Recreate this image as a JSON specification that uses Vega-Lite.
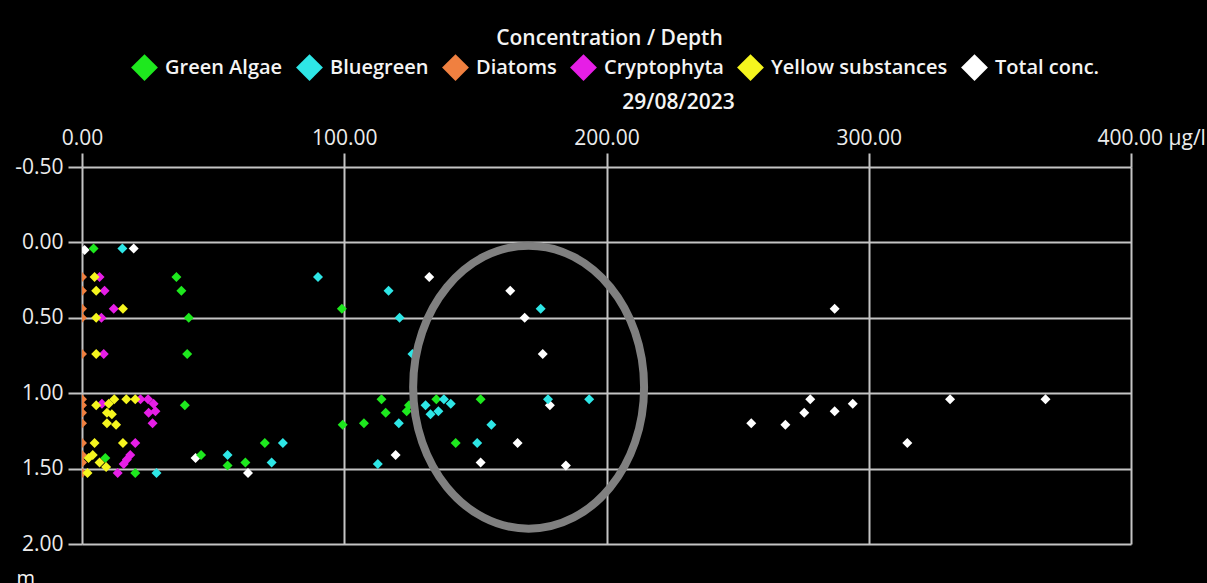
{
  "$schema": "https://vega.github.io/schema/vega-lite/v6.json",
  "width": 1049,
  "height": 377,
  "padding": {"left": 82, "top": 167, "right": 76, "bottom": 39},
  "autosize": {"type": "none"},
  "background": "#000000",
  "title": {
    "text": "Concentration / Depth",
    "anchor": "middle",
    "frame": "group",
    "dx": 3,
    "offset": 5,
    "color": "#f4f4f4",
    "font": "Open Sans",
    "fontSize": 21,
    "fontWeight": 600
  },
  "datasets": {
    "readings": [
      {"series": "Total conc.", "conc": 1.0, "depth": 0.05},
      {"series": "Total conc.", "conc": 19.7, "depth": 0.04},
      {"series": "Total conc.", "conc": 132.4, "depth": 0.23},
      {"series": "Total conc.", "conc": 163.3, "depth": 0.32},
      {"series": "Total conc.", "conc": 168.8, "depth": 0.5},
      {"series": "Total conc.", "conc": 175.7, "depth": 0.74},
      {"series": "Total conc.", "conc": 178.4, "depth": 1.08},
      {"series": "Total conc.", "conc": 166.1, "depth": 1.33},
      {"series": "Total conc.", "conc": 152.0, "depth": 1.46},
      {"series": "Total conc.", "conc": 184.5, "depth": 1.48},
      {"series": "Total conc.", "conc": 119.6, "depth": 1.41},
      {"series": "Total conc.", "conc": 63.3, "depth": 1.53},
      {"series": "Total conc.", "conc": 43.3, "depth": 1.43},
      {"series": "Total conc.", "conc": 287.0, "depth": 0.44},
      {"series": "Total conc.", "conc": 277.7, "depth": 1.04},
      {"series": "Total conc.", "conc": 293.9, "depth": 1.07},
      {"series": "Total conc.", "conc": 275.4, "depth": 1.13},
      {"series": "Total conc.", "conc": 287.0, "depth": 1.12},
      {"series": "Total conc.", "conc": 268.2, "depth": 1.21},
      {"series": "Total conc.", "conc": 255.2, "depth": 1.2},
      {"series": "Total conc.", "conc": 314.7, "depth": 1.33},
      {"series": "Total conc.", "conc": 331.0, "depth": 1.04},
      {"series": "Total conc.", "conc": 367.4, "depth": 1.04},
      {"series": "Diatoms", "conc": 0, "depth": 0.23},
      {"series": "Diatoms", "conc": 0, "depth": 0.32},
      {"series": "Diatoms", "conc": 0, "depth": 0.44},
      {"series": "Diatoms", "conc": 0, "depth": 0.5},
      {"series": "Diatoms", "conc": 0, "depth": 0.74},
      {"series": "Diatoms", "conc": 0, "depth": 1.04},
      {"series": "Diatoms", "conc": 0, "depth": 1.08},
      {"series": "Diatoms", "conc": 0, "depth": 1.13},
      {"series": "Diatoms", "conc": 0, "depth": 1.2},
      {"series": "Diatoms", "conc": 0, "depth": 1.33},
      {"series": "Diatoms", "conc": 0, "depth": 1.41},
      {"series": "Diatoms", "conc": 0, "depth": 1.46},
      {"series": "Diatoms", "conc": 0, "depth": 1.53},
      {"series": "Green Algae", "conc": 4.4, "depth": 0.04},
      {"series": "Green Algae", "conc": 36.0, "depth": 0.23},
      {"series": "Green Algae", "conc": 37.9, "depth": 0.32},
      {"series": "Green Algae", "conc": 40.7, "depth": 0.5},
      {"series": "Green Algae", "conc": 40.1, "depth": 0.74},
      {"series": "Green Algae", "conc": 39.2, "depth": 1.08},
      {"series": "Green Algae", "conc": 8.9, "depth": 1.43},
      {"series": "Green Algae", "conc": 20.3, "depth": 1.53},
      {"series": "Green Algae", "conc": 45.4, "depth": 1.41},
      {"series": "Green Algae", "conc": 55.5, "depth": 1.48},
      {"series": "Green Algae", "conc": 62.3, "depth": 1.46},
      {"series": "Green Algae", "conc": 69.7, "depth": 1.33},
      {"series": "Green Algae", "conc": 99.4, "depth": 1.21},
      {"series": "Green Algae", "conc": 107.5, "depth": 1.2},
      {"series": "Green Algae", "conc": 114.2, "depth": 1.04},
      {"series": "Green Algae", "conc": 115.8, "depth": 1.13},
      {"series": "Green Algae", "conc": 123.8, "depth": 1.12},
      {"series": "Green Algae", "conc": 124.7, "depth": 1.08},
      {"series": "Green Algae", "conc": 135.1, "depth": 1.04},
      {"series": "Green Algae", "conc": 152.0, "depth": 1.04},
      {"series": "Green Algae", "conc": 142.5, "depth": 1.33},
      {"series": "Green Algae", "conc": 99.1, "depth": 0.44},
      {"series": "Bluegreen", "conc": 15.4, "depth": 0.04},
      {"series": "Bluegreen", "conc": 90.0, "depth": 0.23},
      {"series": "Bluegreen", "conc": 116.9, "depth": 0.32},
      {"series": "Bluegreen", "conc": 121.1, "depth": 0.5},
      {"series": "Bluegreen", "conc": 126.0, "depth": 0.74},
      {"series": "Bluegreen", "conc": 174.9, "depth": 0.44},
      {"series": "Bluegreen", "conc": 177.7, "depth": 1.04},
      {"series": "Bluegreen", "conc": 193.4, "depth": 1.04},
      {"series": "Bluegreen", "conc": 156.1, "depth": 1.21},
      {"series": "Bluegreen", "conc": 150.7, "depth": 1.33},
      {"series": "Bluegreen", "conc": 131.0, "depth": 1.08},
      {"series": "Bluegreen", "conc": 132.9, "depth": 1.14},
      {"series": "Bluegreen", "conc": 135.9, "depth": 1.12},
      {"series": "Bluegreen", "conc": 138.0, "depth": 1.04},
      {"series": "Bluegreen", "conc": 140.6, "depth": 1.07},
      {"series": "Bluegreen", "conc": 120.8, "depth": 1.2},
      {"series": "Bluegreen", "conc": 112.8, "depth": 1.47},
      {"series": "Bluegreen", "conc": 76.6, "depth": 1.33},
      {"series": "Bluegreen", "conc": 28.4, "depth": 1.53},
      {"series": "Bluegreen", "conc": 55.5, "depth": 1.41},
      {"series": "Bluegreen", "conc": 72.3, "depth": 1.46},
      {"series": "Cryptophyta", "conc": 6.7, "depth": 0.23},
      {"series": "Cryptophyta", "conc": 8.6, "depth": 0.32},
      {"series": "Cryptophyta", "conc": 12.1, "depth": 0.44},
      {"series": "Cryptophyta", "conc": 7.4, "depth": 0.5},
      {"series": "Cryptophyta", "conc": 8.3, "depth": 0.74},
      {"series": "Cryptophyta", "conc": 7.6, "depth": 1.07},
      {"series": "Cryptophyta", "conc": 22.3, "depth": 1.04},
      {"series": "Cryptophyta", "conc": 25.2, "depth": 1.04},
      {"series": "Cryptophyta", "conc": 27.3, "depth": 1.07},
      {"series": "Cryptophyta", "conc": 25.4, "depth": 1.13},
      {"series": "Cryptophyta", "conc": 28.0, "depth": 1.12},
      {"series": "Cryptophyta", "conc": 26.9, "depth": 1.2},
      {"series": "Cryptophyta", "conc": 20.3, "depth": 1.33},
      {"series": "Cryptophyta", "conc": 18.4, "depth": 1.41},
      {"series": "Cryptophyta", "conc": 17.1, "depth": 1.44},
      {"series": "Cryptophyta", "conc": 15.9, "depth": 1.47},
      {"series": "Cryptophyta", "conc": 13.6, "depth": 1.53},
      {"series": "Yellow substances", "conc": 4.8, "depth": 0.23},
      {"series": "Yellow substances", "conc": 5.4, "depth": 0.32},
      {"series": "Yellow substances", "conc": 15.6, "depth": 0.44},
      {"series": "Yellow substances", "conc": 5.4, "depth": 0.5},
      {"series": "Yellow substances", "conc": 5.4, "depth": 0.74},
      {"series": "Yellow substances", "conc": 5.4, "depth": 1.08},
      {"series": "Yellow substances", "conc": 10.2, "depth": 1.07},
      {"series": "Yellow substances", "conc": 12.3, "depth": 1.04},
      {"series": "Yellow substances", "conc": 16.9, "depth": 1.04},
      {"series": "Yellow substances", "conc": 20.3, "depth": 1.04},
      {"series": "Yellow substances", "conc": 9.5, "depth": 1.13},
      {"series": "Yellow substances", "conc": 11.4, "depth": 1.14},
      {"series": "Yellow substances", "conc": 9.5, "depth": 1.2},
      {"series": "Yellow substances", "conc": 13.0, "depth": 1.21},
      {"series": "Yellow substances", "conc": 4.8, "depth": 1.33},
      {"series": "Yellow substances", "conc": 15.6, "depth": 1.33},
      {"series": "Yellow substances", "conc": 4.1, "depth": 1.41},
      {"series": "Yellow substances", "conc": 2.5, "depth": 1.43},
      {"series": "Yellow substances", "conc": 6.7, "depth": 1.46},
      {"series": "Yellow substances", "conc": 9.2, "depth": 1.49},
      {"series": "Yellow substances", "conc": 2.1, "depth": 1.53}
    ],
    "highlight": [
      {"conc": 170.3, "depth": 0.96}
    ]
  },
  "encoding": {
    "x": {
      "field": "conc",
      "type": "quantitative",
      "scale": {"domain": [0, 400], "nice": false, "zero": false},
      "axis": {
        "orient": "top",
        "values": [0, 100, 200, 300, 400],
        "labelExpr": "datum.value == 400 ? '400.00 µg/l' : format(datum.value, '.2f')",
        "labelAlign": {"condition": {"test": "datum.value == 400", "value": "left"}, "value": "center"},
        "labelOffset": {"condition": {"test": "datum.value == 400", "value": -34}, "value": 0},
        "labelFlush": false,
        "labelOverlap": false,
        "labelPadding": 5,
        "title": "29/08/2023",
        "titleX": 596,
        "titleY": -59,
        "titleAlign": "center",
        "titleBaseline": "alphabetic",
        "titleAnchor": null
      }
    },
    "y": {
      "field": "depth",
      "type": "quantitative",
      "scale": {"domain": [-0.5, 2], "nice": false, "zero": false, "reverse": true},
      "axis": {
        "orient": "left",
        "values": [-0.5, 0, 0.5, 1, 1.5, 2],
        "labelExpr": "replace(format(datum.value, '.2f'), '\u2212', '-')",
        "labelPadding": 5,
        "title": "m",
        "titleAngle": 0,
        "titleAlign": "left",
        "titleBaseline": "alphabetic",
        "titleX": -66,
        "titleY": 417,
        "titleFontWeight": "normal",
        "titleFontSize": 20
      }
    }
  },
  "layer": [
    {
      "data": {"name": "readings"},
      "mark": {"type": "point", "shape": "diamond", "filled": true, "size": 100, "opacity": 1, "clip": true},
      "encoding": {
        "color": {
          "field": "series",
          "type": "nominal",
          "sort": null,
          "scale": {
            "domain": ["Green Algae", "Bluegreen", "Diatoms", "Cryptophyta", "Yellow substances", "Total conc."],
            "range": ["#1ee81e", "#2ee6e6", "#f08040", "#e61ee6", "#f5f51e", "#ffffff"]
          },
          "legend": {
            "orient": "none",
            "legendX": 49,
            "legendY": -113,
            "direction": "horizontal",
            "title": null,
            "symbolType": "diamond",
            "symbolSize": 720,
            "symbolStrokeWidth": 0,
            "symbolOpacity": 1,
            "labelColor": "#f4f4f4",
            "labelFont": "Open Sans",
            "labelFontSize": 20,
            "labelFontWeight": 600,
            "labelOffset": 7,
            "columnPadding": 13,
            "padding": 0,
            "labelLimit": 400
          }
        }
      }
    },
    {
      "description": "grey ring marking the cluster of readings",
      "data": {"name": "highlight"},
      "mark": {
        "type": "point",
        "shape": "M0,-1 C0.4513,-1 0.816,-0.5523 0.816,0 C0.816,0.5523 0.4513,1 0,1 C-0.4513,1 -0.816,0.5523 -0.816,0 C-0.816,-0.5523 -0.4513,-1 0,-1 Z",
        "size": 80100,
        "filled": false,
        "color": "#808080",
        "strokeWidth": 8,
        "opacity": 1
      }
    }
  ],
  "config": {
    "view": {"stroke": null},
    "axis": {
      "domain": false,
      "grid": true,
      "gridColor": "#c4c4c4",
      "gridWidth": 2,
      "gridOpacity": 1,
      "tickColor": "#c4c4c4",
      "tickWidth": 2,
      "tickSize": 14,
      "labelColor": "#ececec",
      "labelFont": "Open Sans",
      "labelFontSize": 21,
      "labelFontWeight": "normal",
      "titleColor": "#f4f4f4",
      "titleFont": "Open Sans",
      "titleFontSize": 21,
      "titleFontWeight": 600
    }
  }
}
